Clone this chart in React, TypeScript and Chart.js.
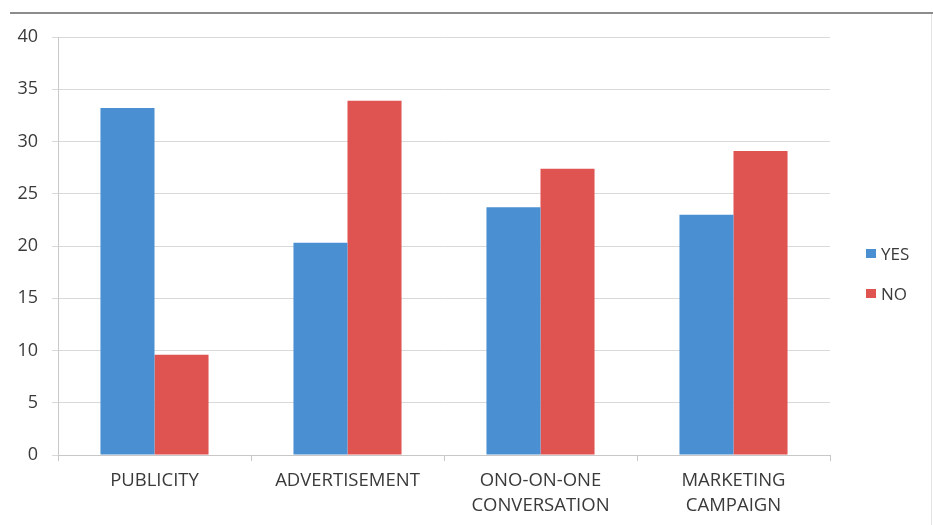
import React, { useEffect, useRef } from "react";
import { Chart, registerables } from "chart.js";

Chart.register(...registerables);

const categories: (string | string[])[] = [
  "PUBLICITY",
  "ADVERTISEMENT",
  ["ONO-ON-ONE", "CONVERSATION"],
  ["MARKETING", "CAMPAIGN"],
];
const yesValues = [33.2, 20.3, 23.7, 23.0];
const noValues = [9.6, 33.9, 27.4, 29.1];
const seriesNames = ["YES", "NO"];
const seriesColors = ["#4a8fd2", "#df5350"];
const yMin = 0;
const yMax = 40;
const yStep = 5;

const FONT = "'Open Sans', 'Liberation Sans', sans-serif";

export default function App() {
  const ref = useRef<HTMLCanvasElement | null>(null);

  useEffect(() => {
    if (!ref.current) return;
    const chart = new Chart(ref.current, {
      type: "bar",
      data: {
        labels: categories,
        datasets: [
          {
            label: seriesNames[0],
            data: yesValues,
            backgroundColor: seriesColors[0],
            categoryPercentage: 0.56,
            barPercentage: 1,
          },
          {
            label: seriesNames[1],
            data: noValues,
            backgroundColor: seriesColors[1],
            categoryPercentage: 0.56,
            barPercentage: 1,
          },
        ],
      },
      options: {
        animation: false,
        responsive: false,
        maintainAspectRatio: false,
        layout: { padding: { left: 8, right: 103, top: 37, bottom: 0 } },
        plugins: { legend: { display: false }, tooltip: { enabled: false } },
        scales: {
          x: {
            grid: {
              offset: true,
              drawOnChartArea: false,
              drawTicks: true,
              tickLength: 6,
              color: "#c8c8c8",
            },
            border: { color: "#c8c8c8", width: 1 },
            ticks: {
              padding: 7,
              color: "#3a3a3a",
              font: { family: FONT, size: 18.5, lineHeight: 1.35 },
              maxRotation: 0,
              autoSkip: false,
            },
            afterFit: (s: any) => {
              s.height = 70;
            },
          },
          y: {
            min: yMin,
            max: yMax,
            grid: {
              color: "#d9d9d9",
              tickLength: 6,
              drawTicks: true,
            },
            border: { color: "#c8c8c8", width: 1 },
            ticks: {
              stepSize: yStep,
              padding: 14,
              color: "#3a3a3a",
              font: { family: FONT, size: 18 },
            },
            afterFit: (s: any) => {
              s.width = 50;
            },
          },
        },
      },
    });
    return () => chart.destroy();
  }, []);

  return (
    <div
      style={{
        position: "fixed",
        left: 0,
        top: 0,
        width: 933,
        height: 525,
        background: "#ffffff",
        overflow: "hidden",
      }}
    >
      <div
        style={{
          position: "absolute",
          left: 10,
          top: 12,
          width: 923,
          height: 2,
          background: "#8c8c8c",
        }}
      />
      <div
        style={{
          position: "absolute",
          left: 931,
          top: 14,
          width: 1,
          height: 511,
          background: "#e4e4e4",
        }}
      />
      <canvas
        ref={ref}
        width={933}
        height={525}
        style={{ position: "absolute", left: 0, top: 0, width: 933, height: 525 }}
      />
      {seriesNames.map((name, i) => (
        <div
          key={name}
          style={{
            position: "absolute",
            left: 866,
            top: 242 + i * 40,
            height: 22,
            display: "flex",
            alignItems: "center",
            fontFamily: FONT,
            fontSize: 17,
            color: "#3a3a3a",
          }}
        >
          <span
            style={{
              display: "inline-block",
              width: 10,
              height: 9,
              background: seriesColors[i],
              marginRight: 5,
            }}
          />
          {name}
        </div>
      ))}
    </div>
  );
}
